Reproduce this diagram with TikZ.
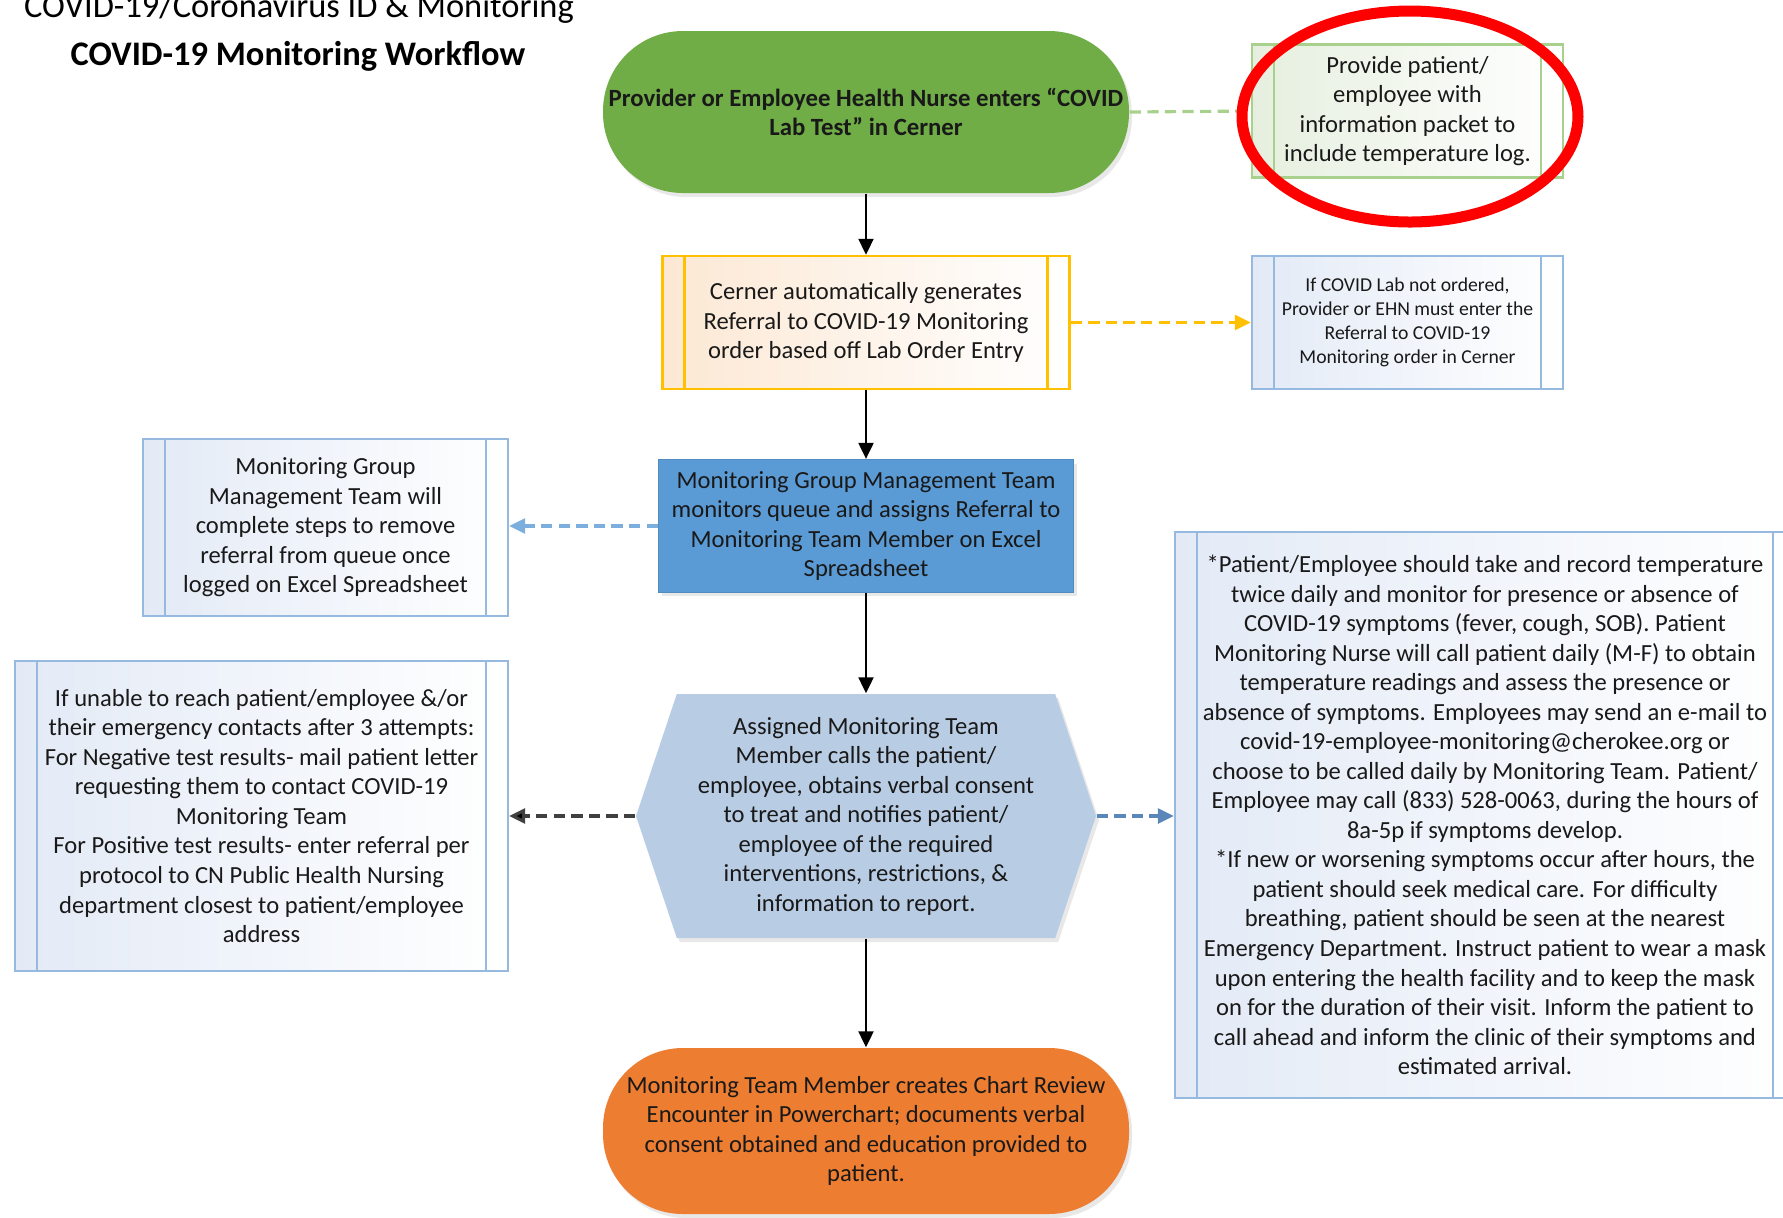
\documentclass[tikz,border=0pt]{standalone}
\usepackage{fontspec}
\setmainfont{Carlito}
\usetikzlibrary{arrows.meta,shapes.symbols,shadows}

\definecolor{startgreen}{HTML}{70AD47}
\definecolor{endorange}{HTML}{ED7D31}
\definecolor{assignblue}{HTML}{5B9BD5}
\definecolor{hexblue}{HTML}{B8CCE4}
\definecolor{lineblue}{HTML}{95B9DF}
\definecolor{tintblue}{HTML}{E3EAF6}
\definecolor{lineyellow}{HTML}{FFC000}
\definecolor{tintyellow}{HTML}{FCE8D4}
\definecolor{linegreen}{HTML}{A9D18E}
\definecolor{tintgreen}{HTML}{E6EFDF}
\definecolor{steelblue}{HTML}{5A86B8}
\definecolor{ringred}{HTML}{FF0000}

\begin{document}
\begin{tikzpicture}[
box/.style={
rectangle,align=center,
text=black!90,
font=\fontsize{7.0}{8.4}\selectfont
},
subproc/.style n args={2}{
box,draw=#1,line width=0.7pt,
left color=#2,right color=white,
path picture={
\draw[#1,line width=0.7pt]
([xshift=0.22cm]path picture bounding box.north west) --
([xshift=0.22cm]path picture bounding box.south west)
([xshift=-0.22cm]path picture bounding box.north east) --
([xshift=-0.22cm]path picture bounding box.south east);
}
},
term/.style={
box,rounded corners=0.8cm,
minimum width=5.26cm,inner xsep=0pt,
drop shadow={opacity=0.18,shadow xshift=0.03cm,shadow yshift=-0.04cm}
},
arrow/.style={-{Triangle[length=0.16cm,width=0.15cm]},line width=0.6pt},
dasharrow/.style={arrow,draw=#1,line width=0.9pt,dash pattern=on 3.2pt off 1.8pt}
]
\useasboundingbox (0,0) rectangle (17.83,-12.17);

% =======================
% TITLES
% =======================

\node[anchor=base,font=\fontsize{9.8}{11}\selectfont] (title) at (2.99,-0.17)
{COVID-19/Coronavirus ID \& Monitoring};
\node[anchor=base,font=\fontsize{9.8}{11}\selectfont\bfseries] (subtitle) at (2.98,-0.65)
{COVID-19 Monitoring Workflow};

% =======================
% MAIN COLUMN
% =======================

\node[term,fill=startgreen,minimum height=1.62cm,font=\fontsize{7.05}{8.4}\selectfont\bfseries] (start) at (8.66,-1.12)
{Provider or Employee Health Nurse enters “COVID\\ Lab Test” in Cerner};

\node[subproc={lineyellow}{tintyellow},minimum width=4.07cm,minimum height=1.33cm] (cerner) at (8.66,-3.225)
{Cerner automatically generates\\ Referral to COVID-19 Monitoring\\ order based off Lab Order Entry};

\node[box,fill=assignblue,draw=assignblue!90!black,minimum width=4.15cm,minimum height=1.32cm,
drop shadow={opacity=0.18,shadow xshift=0.03cm,shadow yshift=-0.04cm}] (assign) at (8.66,-5.26)
{Monitoring Group Management Team\\ monitors queue and assigns Referral to\\ Monitoring Team Member on Excel\\ Spreadsheet};

\node[box,signal,signal to=east and west,signal pointer angle=143,fill=hexblue,
minimum width=4.6cm,minimum height=2.44cm,inner xsep=0pt,
drop shadow={opacity=0.18,shadow xshift=0.03cm,shadow yshift=-0.04cm}] (call) at (8.66,-8.16)
{Assigned Monitoring Team\\ Member calls the patient/\\ employee, obtains verbal consent\\ to treat and notifies patient/\\ employee of the required\\ interventions, restrictions, \&\\ information to report.};

\node[term,fill=endorange,minimum height=1.66cm] (chart) at (8.66,-11.31)
{Monitoring Team Member creates Chart Review\\ Encounter in Powerchart; documents verbal\\ consent obtained and education provided to\\ patient.};

% =======================
% SIDE BOXES
% =======================

\node[subproc={linegreen}{tintgreen},minimum width=3.11cm,minimum height=1.32cm] (provide) at (14.075,-1.11)
{Provide patient/\\ employee with\\ information packet to\\ include temperature log.};

\node[subproc={lineblue}{tintblue},minimum width=3.11cm,minimum height=1.33cm,
font=\fontsize{5.6}{6.8}\selectfont] (ifcovid) at (14.075,-3.225)
{If COVID Lab not ordered,\\ Provider or EHN must enter the\\ Referral to COVID-19\\ Monitoring order in Cerner};

\node[subproc={lineblue}{tintblue},minimum width=3.65cm,minimum height=1.77cm] (remove) at (3.255,-5.275)
{Monitoring Group\\ Management Team will\\ complete steps to remove\\ referral from queue once\\ logged on Excel Spreadsheet};

\node[subproc={lineblue}{tintblue},minimum width=4.93cm,minimum height=3.10cm] (unable) at (2.615,-8.16)
{If unable to reach patient/employee \&/or\\ their emergency contacts after 3 attempts:\\ For Negative test results- mail patient letter\\ requesting them to contact COVID-19\\ Monitoring Team\\ For Positive test results- enter referral per\\ protocol to CN Public Health Nursing\\ department closest to patient/employee\\ address};

\node[subproc={lineblue}{tintblue},minimum width=6.2cm,minimum height=5.66cm] (temp) at (14.85,-8.15)
{*Patient/Employee should take and record temperature\\ twice daily and monitor for presence or absence of\\ COVID-19 symptoms (fever, cough, SOB). Patient\\ Monitoring Nurse will call patient daily (M-F) to obtain\\ temperature readings and assess the presence or\\ absence of symptoms. Employees may send an e-mail to\\ covid-19-employee-monitoring@cherokee.org or\\ choose to be called daily by Monitoring Team. Patient/\\ Employee may call (833) 528-0063, during the hours of\\ 8a-5p if symptoms develop.\\ *If new or worsening symptoms occur after hours, the\\ patient should seek medical care. For difficulty\\ breathing, patient should be seen at the nearest\\ Emergency Department. Instruct patient to wear a mask\\ upon entering the health facility and to keep the mask\\ on for the duration of their visit. Inform the patient to\\ call ahead and inform the clinic of their symptoms and\\ estimated arrival.};

% =======================
% ARROWS
% =======================

\draw[arrow] (start.south) -- (cerner.north);
\draw[arrow] (cerner.south) -- (assign.north);
\draw[arrow] (assign.south) -- (call.north);
\draw[arrow] (call.south) -- (chart.north);

\draw[draw=linegreen,line width=0.9pt,dash pattern=on 3.2pt off 1.8pt] (start.east) -- (provide.west);
\draw[dasharrow=lineyellow,-{Triangle[length=0.16cm,width=0.15cm,fill=lineyellow]}] (cerner.east) -- (ifcovid.west);
\draw[dasharrow=assignblue!80] (assign.west) -- (assign.west -| remove.east);
\draw[dasharrow=black!75,-{Triangle[length=0.16cm,width=0.15cm,fill=black]}] (call.west) -- (call.west -| unable.east);
\draw[dasharrow=steelblue] (call.east) -- (call.east -| temp.west);

% =======================
% HIGHLIGHT
% =======================

\draw[ringred,line width=0.11cm] (14.10,-1.165) ellipse (1.68cm and 1.055cm);

\end{tikzpicture}
\end{document}
